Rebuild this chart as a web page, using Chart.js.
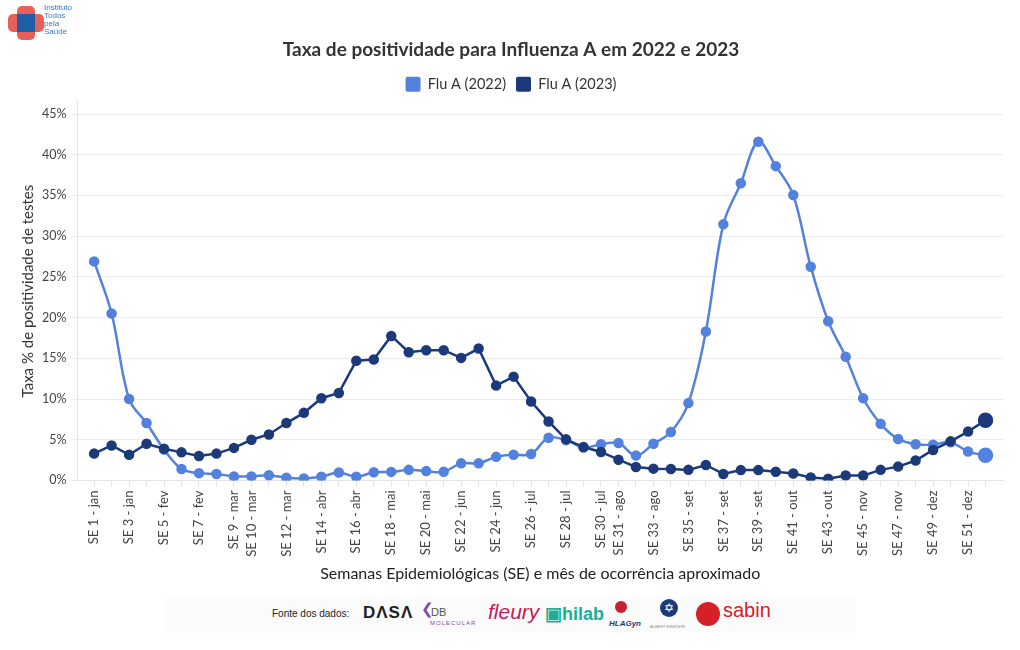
<!DOCTYPE html>
<html>
<head>
<meta charset="utf-8">
<script src="https://cdn.jsdelivr.net/npm/chart.js@4"></script>
<style>
  body { margin: 0; background: #fff; font-family: Lato, "Noto Sans", sans-serif; }
  #wrap { position: relative; width: 1020px; height: 650px; }
  #logo { position: absolute; left: 8px; top: 6px; width: 36px; height: 34px; }
  #logo .v { position: absolute; left: 9px; top: 0; width: 18px; height: 34px; background: #e8605a; border-radius: 5px; }
  #logo .h { position: absolute; left: 0; top: 8px; width: 36px; height: 18px; background: #e8605a; border-radius: 5px; }
  #logo .c { position: absolute; left: 9px; top: 8px; width: 18px; height: 18px; background: #1d5fa8; }
  #logoTxt { position: absolute; left: 44px; top: 4px; font: 8px/8px "Liberation Sans", sans-serif; color: #3a78c0; }
  #fonte { position: absolute; left: 165px; top: 597px; width: 690px; height: 36px; background: #fbfbfb;
           font-family: "Liberation Sans", Arial, sans-serif; }
  #fonte span, #fonte div { position: absolute; white-space: nowrap; }
</style>
</head>
<body>
<div id="wrap">
  <canvas id="chart" width="1020" height="650"></canvas>
  <div id="logo"><div class="v"></div><div class="h"></div><div class="c"></div></div>
  <div id="logoTxt">Instituto<br>Todos<br>pela<br>Saúde</div>
  <div id="fonte">
    <span style="left:107px;top:11px;font-size:10px;color:#222">Fonte dos dados:</span>
    <span style="left:198px;top:6px;font-size:17px;font-weight:bold;color:#222;letter-spacing:1px">DΛSΛ</span>
    <span style="left:256px;top:3px;font-size:15px;color:#7b4fa0">❮</span>
    <span style="left:266px;top:9px;font-size:11px;color:#555">DB</span>
    <span style="left:265px;top:23px;font-size:6px;color:#7b4fa0;letter-spacing:1px">MOLECULAR</span>
    <span style="left:323px;top:3px;font-size:21px;font-style:italic;color:#c8195a">fleury</span>
    <span style="left:380px;top:6px;font-size:18px;font-weight:bold;color:#1fae98">▣hilab</span>
    <div style="left:450px;top:4px;width:12px;height:12px;border-radius:6px;background:#c8202f"></div>
    <span style="left:444px;top:22px;font-size:8px;font-weight:bold;font-style:italic;color:#1c3a7a">HLAGyn</span>
    <div style="left:495px;top:2px;width:18px;height:18px;border-radius:10px;background:#1c3a7a;color:#fff;font-size:12px;line-height:18px;text-align:center">✡</div>
    <span style="left:485px;top:27px;font-size:4px;color:#888">ALBERT EINSTEIN</span>
    <div style="left:531px;top:5px;width:24px;height:24px;border-radius:12px;background:#d42027"></div>
    <span style="left:558px;top:2px;font-size:20px;color:#d42027">sabin</span>
  </div>
</div>
<script>
// semanas epidemiológicas
const weeks = Array.from({ length: 52 }, (_, i) => i + 1);
const months = ['jan','jan','jan','jan','fev','fev','fev','fev','mar','mar','mar','mar','mar',
  'abr','abr','abr','abr','mai','mai','mai','mai','jun','jun','jun','jun',
  'jul','jul','jul','jul','jul','ago','ago','ago','ago','set','set','set','set','set',
  'out','out','out','out','nov','nov','nov','nov','dez','dez','dez','dez','dez'];
const weekLabels = weeks.map((w, i) => 'SE ' + w + ' - ' + months[i]);
const shownWeeks = [1,3,5,7,9,10,12,14,16,18,20,22,24,26,28,30,31,33,35,37,39,41,43,45,47,49,51];
const yTicks = [0, 5, 10, 15, 20, 25, 30, 35, 40, 45];

const flu2022 = [26.9, 20.5, 10.0, 7.05, 3.8, 1.4, 0.9, 0.8, 0.5, 0.5, 0.65, 0.33, 0.25,
  0.45, 0.98, 0.45, 1.0, 1.05, 1.3, 1.15, 1.07, 2.1, 2.1, 2.9, 3.15, 3.25,
  5.25, 4.95, 4.05, 4.45, 4.6, 3.05, 4.5, 5.95, 9.5, 18.3, 31.45, 36.5, 41.6,
  38.6, 35.05, 26.25, 19.55, 15.2, 10.1, 6.95, 5.1, 4.45, 4.4, 4.7, 3.55, 3.1];
const flu2023 = [3.3, 4.3, 3.15, 4.5, 3.9, 3.45, 3.0, 3.3, 4.0, 5.0, 5.65, 7.05, 8.3,
  10.1, 10.75, 14.7, 14.85, 17.75, 15.75, 16.0, 16.0, 15.05, 16.2, 11.65, 12.75, 9.7,
  7.25, 5.05, 4.1, 3.5, 2.55, 1.65, 1.45, 1.4, 1.3, 1.9, 0.8, 1.27, 1.27,
  1.07, 0.86, 0.37, 0.2, 0.6, 0.6, 1.3, 1.7, 2.45, 3.75, 4.8, 6.0, 7.4];

const light = '#5282dd';
const dark = '#1c3a7a';
const font = 'Lato, "Noto Sans", sans-serif';

// marcador maior no último ponto
const radii = weeks.map((w, i) => i === weeks.length - 1 ? 6.5 : 4);

const ctx = document.getElementById('chart').getContext('2d');

new Chart(ctx, {
    type: 'line',
    data: {
        datasets: [{
            label: 'Flu A (2022)',
            data: weeks.map((w, i) => ({ x: w, y: flu2022[i] })),
            borderColor: light,
            backgroundColor: light,
            borderWidth: 2.5,
            pointRadius: radii,
            tension: 0.35,
            order: 2
        }, {
            label: 'Flu A (2023)',
            data: weeks.map((w, i) => ({ x: w, y: flu2023[i] })),
            borderColor: dark,
            backgroundColor: dark,
            borderWidth: 2.5,
            pointRadius: radii,
            tension: 0,
            order: 1
        }]
    },
    options: {
        responsive: false,
        animation: false,
        layout: { padding: { left: 19, right: 17, top: 0, bottom: 67 } },
        plugins: {
            tooltip: { enabled: false },
            title: {
                display: true,
                text: 'Taxa de positividade para Influenza A em 2022 e 2023',
                color: '#333',
                font: { family: font, size: 19, weight: 'bold' },
                padding: { top: 38, bottom: 6 }
            },
            legend: {
                labels: {
                    color: '#333',
                    font: { family: font, size: 14.5 },
                    boxWidth: 15,
                    boxHeight: 15,
                    useBorderRadius: true,
                    borderRadius: 2,
                    padding: 10,
                    sort: (a, b) => a.datasetIndex - b.datasetIndex,
                    generateLabels: chart => Chart.defaults.plugins.legend.labels.generateLabels(chart)
                        .map(l => Object.assign(l, { lineWidth: 0 }))
                }
            }
        },
        scales: {
            x: {
                type: 'linear',
                min: 0.05,
                max: 53,
                afterBuildTicks: scale => { scale.ticks = weeks.map(w => ({ value: w })); },
                ticks: {
                    autoSkip: false,
                    maxRotation: 90,
                    minRotation: 90,
                    color: '#444',
                    font: { family: font, size: 13 },
                    padding: 4,
                    callback: v => shownWeeks.includes(v) ? weekLabels[v - 1] : ''
                },
                grid: { drawOnChartArea: false, color: '#e4e4e4', tickLength: 6 },
                border: { color: '#e4e4e4' },
                title: {
                    display: true,
                    text: 'Semanas Epidemiológicas (SE) e mês de ocorrência aproximado',
                    color: '#222',
                    font: { family: font, size: 16 },
                    padding: { top: 3, bottom: 0 }
                }
            },
            y: {
                min: 0,
                max: 46.5,
                afterBuildTicks: scale => { scale.ticks = yTicks.map(v => ({ value: v })); },
                ticks: {
                    color: '#444',
                    font: { family: font, size: 12.5 },
                    padding: 5,
                    callback: v => v + '%'
                },
                grid: { color: '#ececec', tickLength: 6 },
                border: { color: '#e4e4e4' },
                title: {
                    display: true,
                    text: 'Taxa % de positividade de testes',
                    color: '#333',
                    font: { family: font, size: 15 },
                    padding: { top: 0, bottom: 0 }
                }
            }
        }
    }
});
</script>
</body>
</html>
